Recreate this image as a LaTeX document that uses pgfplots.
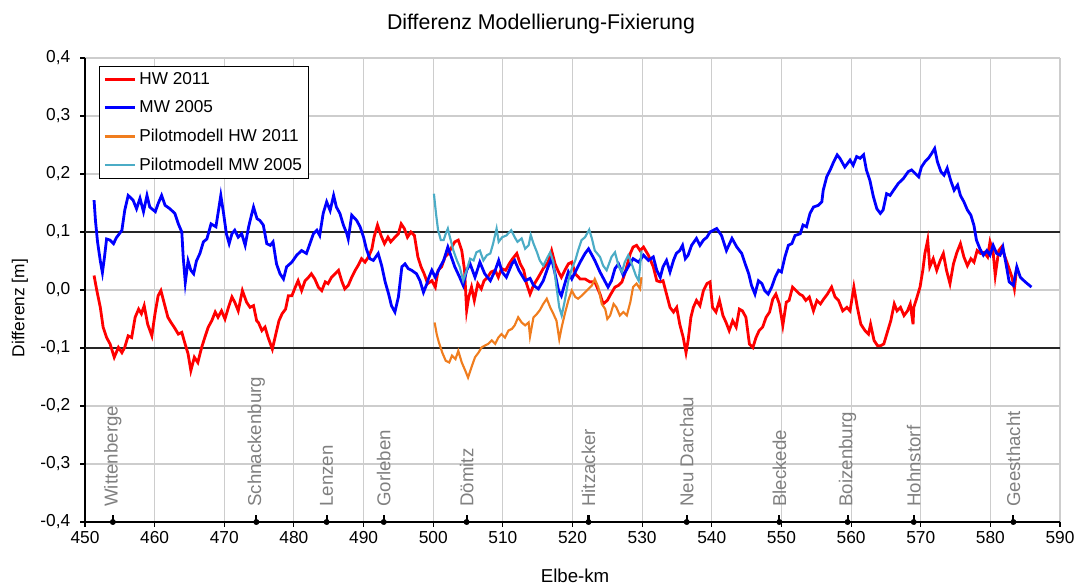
\documentclass[border=0pt]{standalone}
\usepackage{fontspec}
\setmainfont{Liberation Sans}
\usepackage{pgfplots}
\pgfplotsset{compat=1.18}
\definecolor{hwred}{RGB}{255,0,0}
\definecolor{mwblue}{RGB}{0,0,255}
\definecolor{pilorange}{RGB}{240,125,30}
\definecolor{pilcyan}{RGB}{75,172,198}
\definecolor{gridgray}{RGB}{205,205,205}
\definecolor{stgray}{RGB}{128,128,128}
\begin{document}
\begin{tikzpicture}
\begin{axis}[
  scale only axis, width=731.25pt, height=348pt,
  xmin=450, xmax=590, ymin=-0.4, ymax=0.4,
  xtick={450,460,470,480,490,500,510,520,530,540,550,560,570,580,590},
  ytick={-0.4,-0.3,-0.2,-0.1,0,0.1,0.2,0.3,0.4},
  scaled y ticks=false,
  clip=false,
  /pgf/number format/assume math mode=true,
  yticklabel style={/pgf/number format/fixed, /pgf/number format/fixed zerofill, /pgf/number format/precision=1, /pgf/number format/use comma, xshift=-4pt},
  tick label style={font=\fontsize{13}{15}\selectfont},
  axis lines=left,
  axis line style={-, black, line width=1pt},
  grid=major,
  major grid style={draw=gridgray, line width=0.8pt},
  tick style={black, line width=0.8pt},
  tick align=outside,
  major tick length=3.5pt,
  title={Differenz Modellierung-Fixierung},
  title style={at={(0.4677,1.055)}, anchor=center, font=\fontsize{16}{19}\selectfont},
  xlabel={Elbe-km},
  xlabel style={at={(0.5026,-0.1164)}, anchor=center, font=\fontsize{14}{17}\selectfont},
  ylabel={Differenz [m]},
  ylabel style={at={(-0.0667,0.461)}, anchor=center, font=\fontsize{13}{15}\selectfont},
  legend style={at={(0.0144,0.983)}, anchor=north west, draw=black, line width=0.6pt,
    font=\fontsize{12.9}{15}\selectfont, cells={anchor=west}, inner xsep=3pt, inner ysep=2.5pt, row sep=6.8pt},
  legend image code/.code={\draw[#1] (0pt,0pt) -- (23pt,0pt);},
]
\addplot[black!85, line width=2pt, forget plot] coordinates {(450,0.1) (590,0.1)};
\addplot[black!85, line width=2pt, forget plot] coordinates {(450,-0.1) (590,-0.1)};

\addlegendimage{color=hwred, line width=2pt}
\addlegendentry{HW 2011}
\addlegendimage{color=mwblue, line width=2pt}
\addlegendentry{MW 2005}
\addlegendimage{color=pilorange, line width=1.8pt}
\addlegendentry{Pilotmodell HW 2011}
\addlegendimage{color=pilcyan, line width=1.8pt}
\addlegendentry{Pilotmodell MW 2005}

\addplot[hwred, line width=2.1pt, forget plot] coordinates {
(451.3,0.025) (451.7,-0.001) (452.2,-0.030) (452.6,-0.064) (453.1,-0.082) (453.6,-0.093) (454.2,-0.116) (454.8,-0.099) (455.3,-0.108) (455.7,-0.099) (456.2,-0.079) (456.7,-0.082) (457.2,-0.047) (457.7,-0.033) (458.1,-0.041) (458.5,-0.027) (459.0,-0.059) (459.6,-0.079) (460.05,-0.041) (460.5,-0.010) (460.9,-0.001) (461.4,-0.024) (461.9,-0.047) (462.35,-0.056) (462.8,-0.064) (463.4,-0.076) (463.9,-0.073) (464.3,-0.090) (464.8,-0.110) (465.2,-0.139) (465.7,-0.116) (466.2,-0.125) (466.75,-0.099) (467.2,-0.082) (467.7,-0.064) (468.2,-0.053) (468.7,-0.038) (469.1,-0.047) (469.6,-0.036) (470.1,-0.050) (470.6,-0.030) (471.1,-0.012) (471.5,-0.021) (472.0,-0.036) (472.6,-0.001) (473.2,-0.021) (473.7,-0.030) (474.2,-0.027) (474.65,-0.053) (474.9,-0.056) (475.4,-0.070) (475.85,-0.064) (476.3,-0.082) (476.9,-0.102) (477.4,-0.076) (477.85,-0.053) (478.3,-0.041) (478.8,-0.033) (479.2,-0.010) (479.7,-0.010) (480.2,0.005) (480.6,0.016) (481.1,-0.001) (481.6,0.016) (482.1,0.022) (482.5,0.028) (483.0,0.019) (483.5,0.005) (484.0,-0.001) (484.5,0.014) (484.9,0.011) (485.4,0.022) (485.9,0.028) (486.4,0.034) (486.85,0.016) (487.3,0.002) (487.8,0.008) (488.3,0.022) (488.8,0.034) (489.2,0.042) (489.7,0.054) (490.2,0.048) (490.7,0.057) (491.2,0.071) (491.5,0.091) (492.0,0.112) (492.5,0.094) (493.0,0.080) (493.5,0.091) (493.9,0.083) (494.5,0.091) (495.0,0.097) (495.4,0.114) (495.85,0.106) (496.3,0.091) (496.8,0.100) (497.3,0.094) (497.8,0.057) (498.25,0.040) (498.7,0.028) (499.2,0.011) (499.8,0.016) (500.3,0.005) (500.7,0.034) (501.2,0.040) (501.7,0.057) (502.2,0.063) (502.65,0.074) (503.1,0.083) (503.6,0.086) (504.1,0.068) (504.5,0.034) (504.8,-0.035) (505.1,-0.012) (505.5,0.005) (505.9,-0.018) (506.4,0.011) (506.9,0.002) (507.3,0.016) (507.8,0.022) (508.3,0.031) (508.9,0.034) (509.35,0.022) (509.8,0.037) (510.4,0.034) (510.9,0.045) (511.4,0.054) (512.0,0.063) (512.5,0.045) (513.0,0.034) (513.4,0.011) (513.9,-0.007) (514.4,0.008) (515.1,0.022) (515.8,0.037) (516.5,0.048) (517.0,0.068) (517.5,0.045) (518.0,0.031) (518.4,0.022) (518.9,0.034) (519.4,0.045) (519.9,0.048) (520.4,0.028) (521.1,0.019) (521.8,0.019) (522.5,0.014) (523.2,0.014) (523.95,-0.007) (524.4,-0.024) (525.0,-0.018) (525.5,-0.007) (526.1,0.005) (526.6,0.008) (527.1,0.014) (527.5,0.028) (528.3,0.063) (528.7,0.074) (529.2,0.077) (529.7,0.068) (530.2,0.074) (530.9,0.060) (531.6,0.040) (532.1,0.016) (532.6,0.014) (533.0,0.016) (533.5,-0.007) (534.0,-0.030) (534.5,-0.038) (534.96,-0.030) (535.4,-0.059) (535.9,-0.082) (536.3,-0.108) (536.6,-0.087) (537.0,-0.047) (537.35,-0.030) (537.8,-0.018) (538.3,-0.027) (538.8,-0.001) (539.3,0.011) (539.75,0.014) (540.1,-0.030) (540.6,-0.038) (541.1,-0.018) (541.6,-0.044) (542.05,-0.056) (542.5,-0.070) (543.0,-0.053) (543.5,-0.064) (543.96,-0.033) (544.4,-0.036) (544.9,-0.047) (545.4,-0.093) (545.9,-0.099) (546.35,-0.082) (546.8,-0.070) (547.3,-0.064) (547.8,-0.047) (548.3,-0.038) (548.75,-0.016) (549.2,-0.007) (549.7,-0.024) (550.2,-0.061) (550.7,-0.021) (551.1,-0.018) (551.6,0.005) (552.1,-0.001) (552.6,-0.007) (553.05,-0.010) (553.5,-0.018) (554.0,-0.012) (554.6,-0.036) (555.1,-0.018) (555.6,-0.024) (556.1,-0.015) (556.6,-0.007) (557.2,0.005) (557.7,-0.012) (558.2,-0.018) (558.8,-0.036) (559.4,-0.030) (559.85,-0.036) (560.4,0.005) (560.9,-0.030) (561.4,-0.059) (562.0,-0.070) (562.5,-0.076) (562.8,-0.059) (563.3,-0.087) (563.8,-0.096) (564.25,-0.096) (564.7,-0.093) (565.2,-0.073) (565.7,-0.053) (566.2,-0.024) (566.6,-0.036) (567.1,-0.030) (567.6,-0.044) (568.1,-0.036) (568.5,-0.024) (568.9,-0.059) (569.0,-0.030) (569.4,-0.015) (569.9,0.005) (570.3,0.034) (570.6,0.063) (571.0,0.086) (571.3,0.040) (571.8,0.054) (572.3,0.034) (572.8,0.051) (573.25,0.063) (573.7,0.034) (574.2,0.011) (574.7,0.045) (575.2,0.065) (575.7,0.080) (576.2,0.057) (576.7,0.042) (577.2,0.054) (577.65,0.048) (578.1,0.068) (578.6,0.063) (579.1,0.065) (579.6,0.057) (579.95,0.083) (580.4,0.065) (580.7,0.025) (581.2,0.068) (581.6,0.074) (582.1,0.057) (582.6,0.040) (583.1,0.022) (583.45,0.002) (583.8,0.040)
};

\addplot[mwblue, line width=2.1pt, forget plot] coordinates {
(451.3,0.155) (451.5,0.120) (451.8,0.083) (452.2,0.050) (452.5,0.030) (452.8,0.057) (453.1,0.088) (453.6,0.086) (454.1,0.080) (454.5,0.090) (455.3,0.103) (455.7,0.137) (456.2,0.163) (456.9,0.155) (457.4,0.140) (457.9,0.158) (458.4,0.135) (458.9,0.163) (459.3,0.143) (460.1,0.135) (460.5,0.149) (461.0,0.163) (461.5,0.146) (462.2,0.140) (462.9,0.132) (463.4,0.114) (463.9,0.100) (464.1,0.057) (464.4,0.013) (464.8,0.050) (465.2,0.034) (465.6,0.028) (466.0,0.050) (466.5,0.063) (467.0,0.083) (467.5,0.088) (468.1,0.114) (468.8,0.109) (469.1,0.132) (469.5,0.163) (469.9,0.132) (470.3,0.097) (470.7,0.080) (471.1,0.097) (471.5,0.103) (472.0,0.091) (472.5,0.097) (473.0,0.077) (473.5,0.109) (473.9,0.129) (474.2,0.143) (474.7,0.123) (475.1,0.120) (475.6,0.112) (476.1,0.080) (476.6,0.077) (477.0,0.083) (477.5,0.045) (478.0,0.028) (478.5,0.019) (478.95,0.040) (479.7,0.048) (480.4,0.060) (481.1,0.068) (481.8,0.063) (482.3,0.080) (482.8,0.097) (483.3,0.103) (483.7,0.094) (484.2,0.132) (484.7,0.152) (485.2,0.137) (485.7,0.163) (486.1,0.143) (486.6,0.132) (487.1,0.112) (487.6,0.097) (487.8,0.088) (488.3,0.129) (489.0,0.120) (489.5,0.109) (490.0,0.091) (490.4,0.071) (490.9,0.054) (491.4,0.051) (492.1,0.063) (492.6,0.042) (493.1,0.014) (493.6,-0.007) (494.0,-0.027) (494.5,-0.038) (495.0,-0.012) (495.5,0.040) (495.95,0.045) (496.4,0.037) (496.9,0.034) (497.6,0.028) (498.1,0.016) (498.6,-0.004) (499.1,0.011) (499.3,0.019) (499.8,0.034) (500.3,0.022) (501.0,0.040) (501.5,0.051) (502.1,0.074) (502.6,0.057) (503.1,0.040) (503.8,0.022) (504.3,0.008) (504.8,0.034) (505.3,0.045) (506.0,0.022) (506.7,0.048) (507.4,0.028) (508.2,0.016) (508.9,0.034) (509.4,0.051) (509.9,0.031) (510.5,0.022) (511.3,0.045) (511.7,0.051) (512.3,0.034) (513.2,0.016) (513.9,0.020) (514.4,0.008) (515.1,0.002) (515.8,0.016) (516.5,0.040) (517.0,0.054) (517.5,0.028) (518.0,-0.001) (518.4,-0.010) (518.9,0.011) (519.4,0.031) (519.9,0.019) (520.4,0.031) (521.1,0.048) (521.8,0.063) (522.3,0.071) (522.8,0.060) (523.2,0.051) (523.95,0.031) (524.7,0.014) (525.1,0.005) (525.6,0.016) (526.1,0.037) (526.6,0.045) (527.3,0.025) (528.0,0.040) (528.7,0.054) (529.5,0.048) (530.2,0.060) (530.9,0.051) (531.6,0.057) (532.1,0.034) (532.6,0.022) (533.0,0.040) (533.5,0.051) (534.0,0.031) (534.5,0.051) (534.9,0.063) (535.4,0.068) (535.8,0.077) (536.2,0.054) (536.6,0.060) (537.1,0.077) (537.8,0.089) (538.3,0.077) (538.8,0.086) (539.3,0.091) (539.75,0.100) (540.7,0.106) (541.4,0.094) (542.1,0.068) (542.9,0.089) (543.6,0.074) (544.3,0.063) (544.8,0.045) (545.3,0.028) (545.7,0.008) (546.2,-0.007) (546.7,0.016) (547.2,0.011) (547.6,-0.001) (548.1,-0.007) (548.6,0.005) (549.1,0.022) (549.6,0.034) (550.0,0.031) (550.5,0.057) (551.0,0.077) (551.5,0.080) (551.95,0.094) (552.7,0.097) (553.1,0.112) (553.6,0.109) (554.1,0.132) (554.6,0.143) (555.3,0.146) (555.8,0.152) (556.0,0.172) (556.5,0.195) (557.0,0.207) (557.5,0.221) (558.0,0.233) (558.4,0.227) (559.1,0.212) (559.85,0.224) (560.3,0.215) (560.8,0.230) (561.3,0.227) (561.8,0.233) (562.2,0.207) (562.7,0.189) (563.2,0.161) (563.7,0.140) (564.2,0.132) (564.6,0.138) (565.1,0.166) (565.6,0.163) (566.1,0.172) (566.8,0.184) (567.5,0.192) (568.2,0.204) (568.7,0.207) (569.2,0.201) (569.7,0.195) (570.1,0.212) (570.6,0.221) (571.1,0.227) (571.6,0.236) (572.0,0.244) (572.4,0.221) (572.9,0.204) (573.35,0.198) (573.8,0.210) (574.3,0.189) (574.8,0.172) (575.3,0.181) (575.7,0.163) (576.2,0.152) (576.7,0.138) (577.2,0.129) (577.65,0.111) (578.0,0.086) (578.5,0.071) (579.0,0.060) (579.5,0.068) (579.95,0.060) (580.4,0.077) (580.9,0.063) (581.4,0.060) (581.8,0.074) (582.25,0.045) (582.7,0.014) (583.3,0.008) (583.8,0.040) (584.3,0.022) (585.0,0.014) (585.9,0.005)
};

\addplot[pilorange, line width=1.6pt, forget plot] coordinates {
(500.2,-0.056) (500.5,-0.076) (500.8,-0.090) (501.3,-0.108) (501.8,-0.122) (502.3,-0.125) (502.7,-0.113) (503.2,-0.119) (503.6,-0.105) (504.1,-0.125) (504.6,-0.139) (505.0,-0.151) (505.5,-0.133) (506.0,-0.116) (506.5,-0.108) (506.95,-0.099) (507.4,-0.096) (507.9,-0.093) (508.4,-0.087) (508.9,-0.093) (509.35,-0.082) (509.8,-0.076) (510.3,-0.082) (510.8,-0.070) (511.3,-0.067) (511.7,-0.061) (512.2,-0.047) (512.7,-0.056) (513.2,-0.061) (513.7,-0.056) (513.9,-0.080) (514.4,-0.047) (514.9,-0.041) (515.3,-0.035) (515.8,-0.024) (516.3,-0.015) (516.8,-0.030) (517.25,-0.041) (517.7,-0.053) (518.1,-0.085) (518.45,-0.064) (518.9,-0.041) (519.4,-0.018) (519.9,-0.001) (520.4,-0.012) (520.8,-0.015) (521.3,-0.010) (521.8,-0.004) (522.3,0.002) (522.8,0.008) (523.2,0.019) (523.7,0.005) (524.2,-0.024) (524.7,-0.033) (525.0,-0.050) (525.4,-0.044) (525.9,-0.024) (526.3,-0.030) (526.8,-0.044) (527.3,-0.038) (527.8,-0.044) (528.3,-0.021) (528.7,0.005) (529.2,0.011) (529.7,0.002) (529.9,0.022)
};

\addplot[pilcyan, line width=1.6pt, forget plot] coordinates {
(500.1,0.166) (500.4,0.132) (500.7,0.103) (501.1,0.086) (501.5,0.086) (501.8,0.097) (502.1,0.106) (502.4,0.091) (502.9,0.068) (503.4,0.051) (503.8,0.040) (504.3,0.016) (504.8,0.034) (505.3,0.054) (505.8,0.051) (506.2,0.065) (506.7,0.068) (507.2,0.051) (507.7,0.060) (508.2,0.063) (508.6,0.080) (509.1,0.106) (509.4,0.083) (509.9,0.091) (510.5,0.094) (511.2,0.103) (511.7,0.091) (512.1,0.083) (512.7,0.089) (513.2,0.071) (513.7,0.077) (514.0,0.095) (514.4,0.080) (514.9,0.065) (515.3,0.051) (515.8,0.042) (516.3,0.054) (516.8,0.065) (517.25,0.048) (517.7,0.005) (518.1,-0.030) (518.45,-0.044) (518.9,-0.018) (519.4,0.016) (519.9,0.037) (520.4,0.051) (520.8,0.068) (521.3,0.086) (521.8,0.091) (522.4,0.104) (522.8,0.088) (523.2,0.068) (523.95,0.057) (524.4,0.042) (524.9,0.034) (525.6,0.057) (526.1,0.065) (526.6,0.042) (527.1,0.031) (527.5,0.048) (528.0,0.060) (528.5,0.045) (529.1,0.025) (529.5,0.016) (529.7,0.040) (529.9,0.068)
};

% short station markers standing on the x axis
\addplot[only marks, mark=none, forget plot,
  error bars/.cd, y dir=plus, y explicit, error mark=none,
  error bar style={black, line width=1.6pt}] coordinates {
(454.0,-0.4) +- (0,0.012)
(474.6,-0.4) +- (0,0.012)
(484.7,-0.4) +- (0,0.012)
(492.9,-0.4) +- (0,0.012)
(504.8,-0.4) +- (0,0.012)
(522.3,-0.4) +- (0,0.012)
(536.4,-0.4) +- (0,0.012)
(549.7,-0.4) +- (0,0.012)
(559.5,-0.4) +- (0,0.012)
(569.0,-0.4) +- (0,0.012)
(583.3,-0.4) +- (0,0.012)
};

\begin{scope}[every node/.style={rotate=90, anchor=west, inner sep=0pt, text=stgray, font=\fontsize{14}{17}\selectfont}]
\node at (axis cs:454.0,-0.374) {Wittenberge};
\node at (axis cs:474.6,-0.374) {Schnackenburg};
\node at (axis cs:484.7,-0.374) {Lenzen};
\node at (axis cs:492.9,-0.374) {Gorleben};
\node at (axis cs:504.8,-0.374) {Dömitz};
\node at (axis cs:522.3,-0.374) {Hitzacker};
\node at (axis cs:536.4,-0.374) {Neu Darchau};
\node at (axis cs:549.7,-0.374) {Bleckede};
\node at (axis cs:559.5,-0.374) {Boizenburg};
\node at (axis cs:569.0,-0.374) {Hohnstorf};
\node at (axis cs:583.3,-0.374) {Geesthacht};
\end{scope}
\end{axis}
\pgfresetboundingbox
\path[use as bounding box] (-63.75pt,-47.25pt) rectangle (744pt,391.5pt);
\end{tikzpicture}
\end{document}
